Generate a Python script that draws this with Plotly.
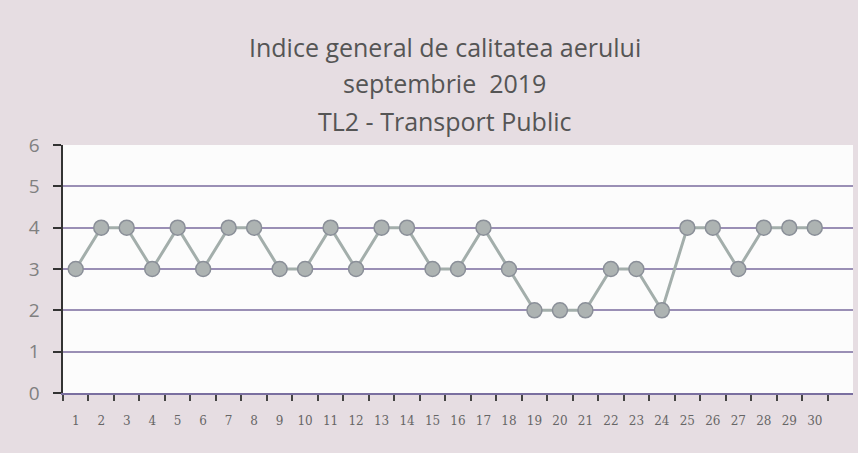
import plotly.graph_objects as go

days = list(range(1, 31))
day_labels = [str(d) for d in days]
index_values = [3, 4, 4, 3, 4, 3, 4, 4, 3, 3, 4, 3, 4, 4, 3, 3, 4, 3, 2, 2, 2, 3, 3, 2, 4, 4, 3, 4, 4, 4]
y_ticks = [0, 1, 2, 3, 4, 5, 6]
y_labels = [f"{v}\u00a0\u00a0" for v in y_ticks]
title_lines = ["Indice general de calitatea aerului", "septembrie  2019", "TL2 - Transport Public"]

fig = go.Figure()
fig.add_trace(go.Scatter(
    x=days, y=index_values, mode="lines+markers",
    line=dict(color="#a3aeab", width=3),
    marker=dict(size=15, color="#adb3b2", line=dict(color="#8a8f98", width=1.5)),
    showlegend=False,
))

plot_top, plot_bottom = 145, 393
for txt, py in zip(title_lines, [47, 83, 121]):
    fig.add_annotation(
        text=txt, xref="paper", yref="paper", x=0.483, y=(plot_bottom - py) / (plot_bottom - plot_top),
        xanchor="center", yanchor="middle", showarrow=False,
        font=dict(family="Open Sans, sans-serif", size=25, color="#555555"),
    )

fig.update_layout(
    width=858, height=453,
    margin=dict(l=63, r=5, t=145, b=60),
    paper_bgcolor="#e6dde2",
    plot_bgcolor="#fcfcfc",
)
fig.update_xaxes(
    range=[0.5, 31.5], tickmode="array", tickvals=days, ticktext=day_labels,
    showgrid=False, zeroline=False, showline=True, linecolor="#7a6fa0", linewidth=2,
    ticks="outside", ticklen=16, tickcolor="rgba(0,0,0,0)",
    tickfont=dict(family="DejaVu Serif, serif", size=12, color="#666"),
    minor=dict(tickmode="array", tickvals=[d + 0.5 for d in range(0, 31)], ticks="outside", ticklen=6, tickcolor="#444", tickwidth=1.5),
)
fig.update_yaxes(
    range=[0, 6], tickmode="array", tickvals=y_ticks, ticktext=y_labels,
    showgrid=True, gridcolor="#9a8fb5", gridwidth=1.5, zeroline=False,
    showline=True, linecolor="#333", linewidth=1.5, ticks="outside", ticklen=8, tickwidth=1.5, tickcolor="#333",
    tickfont=dict(family="Open Sans, sans-serif", size=19, color="#808080"),
)

fig.write_html("out.html", config={"displayModeBar": False},
               post_script="document.body.style.margin='0';document.body.style.overflow='hidden';")
